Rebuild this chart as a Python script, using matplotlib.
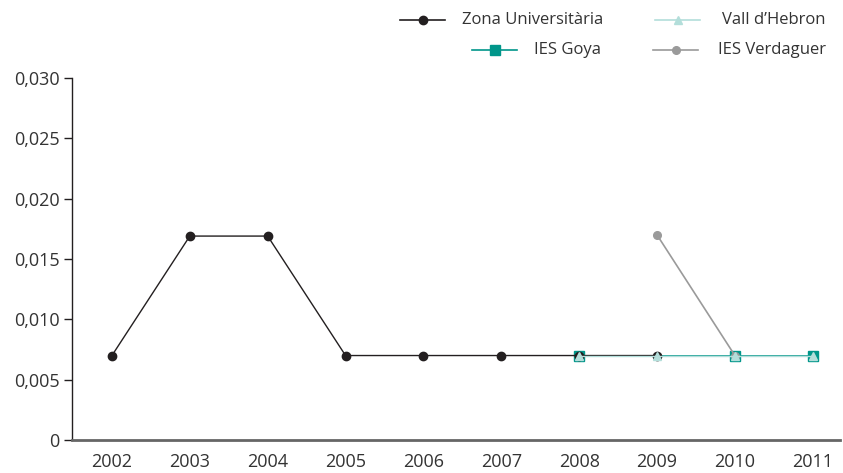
import numpy as np
import matplotlib
matplotlib.use("Agg")
import matplotlib.pyplot as plt
from matplotlib.lines import Line2D

plt.rcParams['font.family'] = ['Open Sans', 'DejaVu Sans']

years = [2002, 2003, 2004, 2005, 2006, 2007, 2008, 2009, 2010, 2011]
zona = [0.007, 0.0169, 0.0169, 0.007, 0.007, 0.007, 0.007, 0.007, np.nan, np.nan]
goya = [np.nan, np.nan, np.nan, np.nan, np.nan, np.nan, 0.007, 0.007, 0.007, 0.007]
vall = [np.nan, np.nan, np.nan, np.nan, np.nan, np.nan, 0.007, 0.007, 0.007, 0.007]
verdaguer = [np.nan, np.nan, np.nan, np.nan, np.nan, np.nan, np.nan, 0.017, 0.007, np.nan]

yticks = [0, 0.005, 0.010, 0.015, 0.020, 0.025, 0.030]
ylabels = ["0", "0,005", "0,010", "0,015", "0,020", "0,025", "0,030"]

c_zona = "#231f20"
c_goya = "#00968a"
c_vall = "#b3deda"
c_verd = "#9a9a9a"
c_text = "#333333"

W, H = 843, 473
fig = plt.figure(figsize=(W / 100, H / 100), dpi=100)
ax = fig.add_axes([72 / W, 1 - 440 / H, (840 - 72) / W, (440 - 78) / H])

ax.plot(years, goya, color=c_goya, lw=1.2, marker="s", ms=6.5, markevery=[6, 8, 9], zorder=2)
ax.plot(years, verdaguer, color=c_verd, lw=1.2, marker="o", ms=5.5, zorder=3)
ax.plot(years, zona, color=c_zona, lw=1.0, marker="o", ms=6, zorder=2)
ax.plot(years, vall, color=c_vall, lw=1.0, marker="^", ms=6, zorder=4)

ax.set_xlim(2001.487, 2011.35)
ax.set_ylim(0, 0.030)
ax.set_xticks(years)
ax.set_xticklabels([str(y) for y in years])
ax.set_yticks(yticks)
ax.set_yticklabels(ylabels)

for s in ["top", "right"]:
    ax.spines[s].set_visible(False)
ax.spines["left"].set_color("#231f20")
ax.spines["left"].set_linewidth(1.0)
ax.spines["bottom"].set_color("#666666")
ax.spines["bottom"].set_linewidth(2.0)
ax.tick_params(axis="y", length=6, width=1, color="#231f20", labelsize=13, labelcolor=c_text, pad=3)
ax.tick_params(axis="x", length=0, labelsize=13, labelcolor=c_text, pad=9)

# legend, text right aligned in each column
entries = [
    ("Zona Universitària", c_zona, "o", 6, 400, 603, 20),
    ("IES Goya", c_goya, "s", 6.5, 472, 601, 50),
    ("Vall d\u2019Hebron", c_vall, "^", 6, 655, 826, 20),
    ("IES Verdaguer", c_verd, "o", 5.5, 653, 826, 50),
]
for label, col, mk, ms, hx, tx, ty in entries:
    yy = 1 - ty / H
    fig.add_artist(Line2D([hx / W, (hx + 45) / W], [yy, yy], color=col, lw=1.2,
                          transform=fig.transFigure))
    fig.add_artist(Line2D([(hx + 22.5) / W], [yy], color=col, marker=mk, ms=ms,
                          transform=fig.transFigure))
    fig.text(tx / W, yy, label, ha="right", va="center", fontsize=12, color=c_text)

fig.savefig("out.png", dpi=100)
